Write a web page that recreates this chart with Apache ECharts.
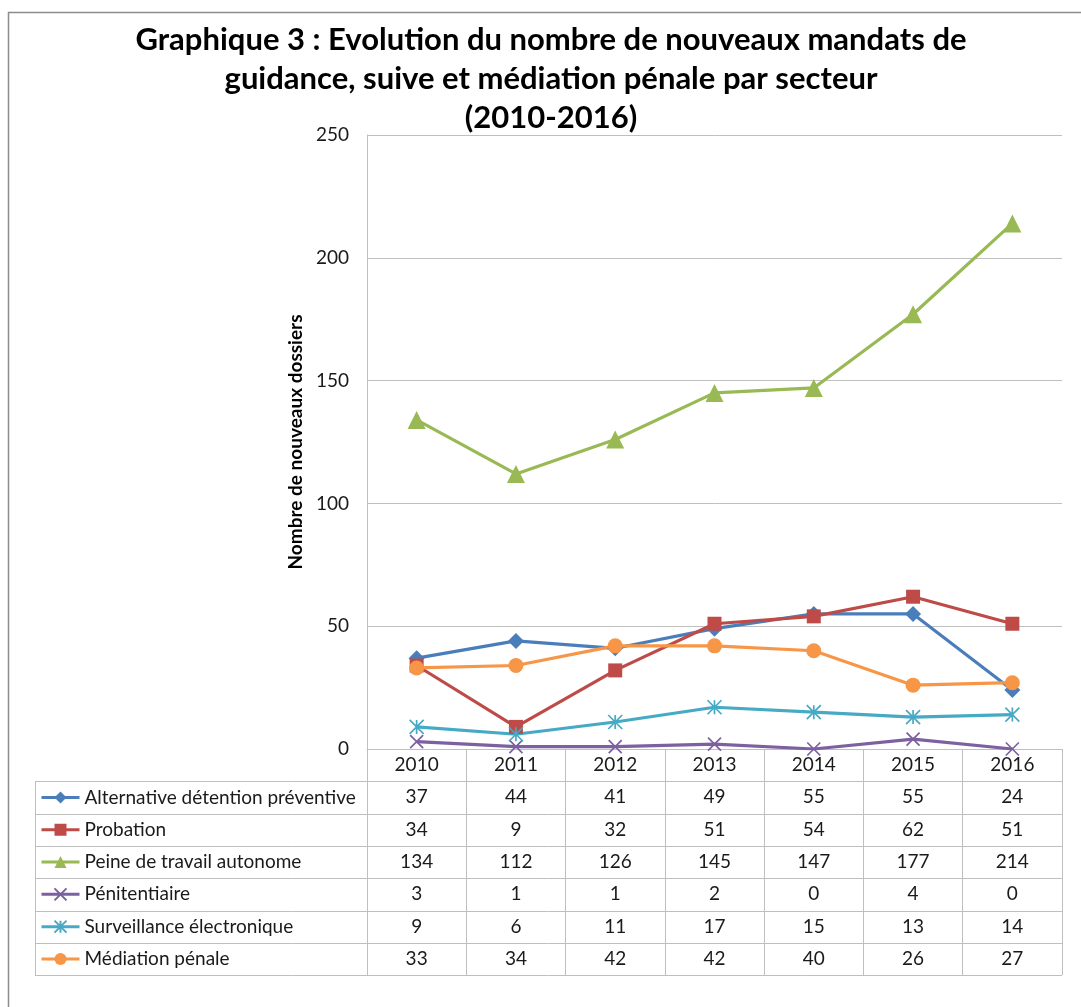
<!DOCTYPE html>
<html><head><meta charset="utf-8">
<script src="https://cdn.jsdelivr.net/npm/echarts@6/dist/echarts.min.js"></script>
<style>html,body{margin:0;padding:0;background:#fff}#c{width:1081px;height:1007px}</style>
</head><body><div id="c"></div>
<script>
// ---- data ----
const years = ['2010','2011','2012','2013','2014','2015','2016'];
const seriesNames = ['Alternative détention préventive','Probation','Peine de travail autonome','Pénitentiaire','Surveillance électronique','Médiation pénale'];
const alternative = [37,44,41,49,55,55,24];
const probation = [34,9,32,51,54,62,51];
const peine = [134,112,126,145,147,177,214];
const penitentiaire = [3,1,1,2,0,4,0];
const surveillance = [9,6,11,17,15,13,14];
const mediation = [33,34,42,42,40,26,27];
const yMin = 0, yMax = 250, yStep = 50;
const titleText = 'Graphique 3 : Evolution du nombre de nouveaux mandats de\nguidance, suive et médiation pénale par secteur\n(2010-2016)';
const yAxisName = 'Nombre de nouveaux dossiers';

// ---- styles ----
const FONT = 'Lato, "Open Sans", sans-serif';
const TXT = '#1a1a1a';
const GRID = '#BFBFBF';
const ROW_H = 32.3;
const allValues = [alternative, probation, peine, penitentiaire, surveillance, mediation];
const styles = [
  {color:'#4A7EBB', symbol:'diamond', size:16},
  {color:'#BE4B48', symbol:'rect', size:14},
  {color:'#98B954', symbol:'triangle', size:18},
  {color:'#7D60A0', symbol:'path://M0,0L10,10M10,0L0,10', size:13, open:true},
  {color:'#46AAC5', symbol:'path://M0,0L10,10M10,0L0,10M5,0L5,10', size:14, open:true},
  {color:'#F79646', symbol:'circle', size:15}
];
const labelStyle = {fontFamily:FONT, fontSize:19, color:TXT};

const chart = echarts.init(document.getElementById('c'), null, {renderer:'canvas'});

const xAxes = [{
  type:'category', data:years, gridIndex:0, position:'bottom', boundaryGap:true,
  axisLine:{show:true, lineStyle:{color:GRID, width:1}},
  axisTick:{show:true, interval:0, length:ROW_H*7, lineStyle:{color:GRID, width:1}},
  axisLabel:Object.assign({interval:0, margin:6.5}, labelStyle),
  splitLine:{show:false}
}];
allValues.forEach((vals, i) => {
  xAxes.push({
    type:'category', data:vals.map(String), gridIndex:0, position:'bottom', offset:ROW_H*(i+1),
    axisLine:{show:false}, axisTick:{show:false}, splitLine:{show:false},
    axisLabel:Object.assign({interval:0, margin:6.5}, labelStyle)
  });
});

const series = allValues.map((vals, i) => {
  const s = styles[i];
  return {
    name:seriesNames[i], type:'line', data:vals, xAxisIndex:0, yAxisIndex:0,
    symbol:s.symbol, symbolSize:s.size, showAllSymbol:true,
    lineStyle:{color:s.color, width:3.2},
    itemStyle:s.open ? {color:s.color, borderColor:s.color, borderWidth:1.7} : {color:s.color, borderWidth:0},
    emphasis:{disabled:true}, animation:false
  };
});

chart.setOption({
  animation:false,
  title:{text:titleText, left:546, top:15, textAlign:'center',
    textStyle:{fontFamily:FONT, fontSize:31, fontWeight:'bold', color:'#000', lineHeight:39}},
  grid:{left:367, right:19, top:135, bottom:258, containLabel:false, outerBoundsMode:'none'},
  xAxis:xAxes,
  yAxis:{type:'value', min:yMin, max:yMax, interval:yStep,
    axisLine:{show:true, lineStyle:{color:GRID, width:1}},
    axisTick:{show:false},
    splitLine:{show:true, lineStyle:{color:GRID, width:1}},
    axisLabel:Object.assign({margin:18}, labelStyle),
    name:yAxisName, nameLocation:'middle', nameGap:62, nameRotate:90,
    nameTextStyle:{fontFamily:FONT, fontSize:19, fontWeight:'bold', color:'#000'}},
  series:series
});

// table rules, legend & frame placed from axis pixel positions
const y0 = chart.convertToPixel({yAxisIndex:0}, yMin);
const xFirst = chart.convertToPixel({xAxisIndex:0}, years[0]);
const xSecond = chart.convertToPixel({xAxisIndex:0}, years[1]);
const band = xSecond - xFirst;
const xRight = chart.convertToPixel({xAxisIndex:0}, years[years.length-1]) + band/2;
const tableLeft = 35;
const graphics = [];
for (let k = 1; k <= 7; k++) {
  const y = Math.round(y0 + ROW_H*k) + 0.5;
  graphics.push({type:'line', shape:{x1:tableLeft, y1:y, x2:xRight, y2:y}, style:{stroke:GRID, lineWidth:1}, silent:true});
}
graphics.push({type:'line', shape:{x1:tableLeft+0.5, y1:Math.round(y0+ROW_H)+0.5, x2:tableLeft+0.5, y2:Math.round(y0+ROW_H*7)+0.5}, style:{stroke:GRID, lineWidth:1}, silent:true});
graphics.push({type:'rect', shape:{x:8.5, y:12.5, width:1200, height:1200}, style:{fill:null, stroke:'#8c8c8c', lineWidth:1.5}, silent:true});

chart.setOption({
  legend:{orient:'vertical', left:40, top:y0 + ROW_H + (ROW_H-22)/2, itemGap:ROW_H-22, padding:0,
    itemWidth:38, itemHeight:15, selectedMode:false, data:seriesNames,
    lineStyle:{width:3},
    textStyle:{fontFamily:FONT, fontSize:19, color:TXT, lineHeight:22}},
  graphic:graphics
});
</script></body></html>
